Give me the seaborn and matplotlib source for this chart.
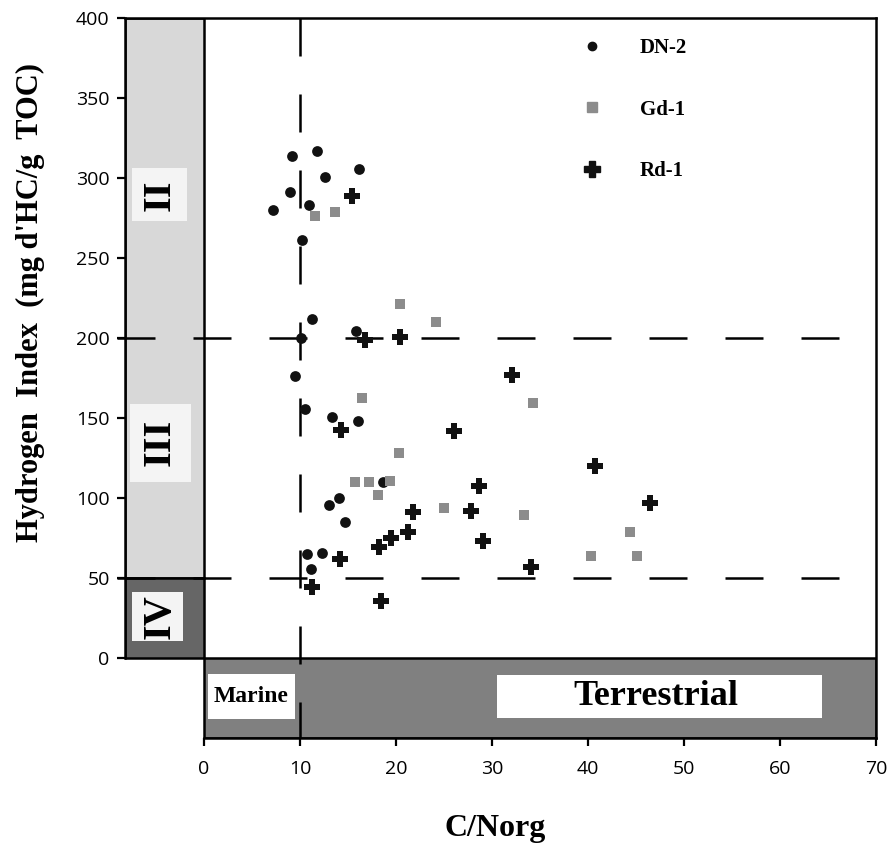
import numpy as np
import pandas as pd
import matplotlib
matplotlib.use("Agg")
import matplotlib.pyplot as plt
import seaborn as sns
from matplotlib.patches import Rectangle
from matplotlib.lines import Line2D

# values
dn2_cn = [9.2, 11.8, 12.6, 16.1, 9.0, 10.9, 7.2, 10.2, 11.25, 10.1, 15.8,
          9.5, 10.5, 13.3, 16.0, 18.6, 14.06, 13.05, 14.7, 10.7, 12.26, 11.1]
dn2_hi = [313.7, 317, 300.4, 305.4, 291, 283, 279.8, 261, 212, 199.8, 204.6,
          176.4, 155.6, 150.4, 148, 109.8, 100.2, 95.6, 85.2, 65.2, 65.6, 55.6]

gd1_cn = [11.6, 13.6, 20.4, 24.2, 16.5, 20.3, 15.7, 17.2, 19.4, 18.1, 25.0,
          34.3, 33.3, 44.4, 40.3, 45.1]
gd1_hi = [276.5, 278.5, 221, 210, 162.3, 128, 109.8, 109.8, 110.4, 101.9, 94,
          159.2, 89.4, 79, 63.75, 63.75]

rd1_cn = [15.45, 16.8, 20.4, 14.3, 21.8, 21.2, 19.5, 18.2, 14.2, 11.3, 18.4,
          32.05, 26.0, 40.7, 28.6, 46.5, 27.8, 29.1, 34.1]
rd1_hi = [288.75, 198.75, 200.4, 142.5, 91.5, 78.5, 75.2, 69.6, 61.9, 44.4, 35.4,
          176.9, 141.9, 120.2, 107.5, 97, 91.9, 72.9, 57]

wells = ["DN-2", "Gd-1", "Rd-1"]
xticks = [0, 10, 20, 30, 40, 50, 60, 70]
yticks = [0, 50, 100, 150, 200, 250, 300, 350, 400]

sns.set_theme(style="white")
plt.rcParams["font.family"] = ["Open Sans", "DejaVu Sans"]
plt.rcParams["text.color"] = "black"
plt.rcParams["axes.labelcolor"] = "black"
serif = ["Liberation Serif", "DejaVu Serif"]

fig = plt.figure(figsize=(8.93, 8.46), dpi=100)
ax = fig.add_axes([0.13998, 0.12766, 0.84098, 0.85106])
x0, x1 = -8.23, 70
y0, y1 = -50, 400
ax.set_xlim(x0, x1)
ax.set_ylim(y0, y1)

lw = 1.8
# grey strips
ax.add_patch(Rectangle((x0, 50), -x0, 350, fc="#d8d8d8", ec="black", lw=lw, zorder=1))
ax.add_patch(Rectangle((x0, 0), -x0, 50, fc="#666666", ec="black", lw=lw, zorder=1))
ax.add_patch(Rectangle((0, -50), 70, 50, fc="#808080", ec="black", lw=lw, zorder=1))

# white label boxes
for bx, by, bw, bh in [(-7.5, 273, 5.73, 33), (-7.7, 110, 6.35, 49), (-7.5, 10.6, 5.31, 30.4)]:
    ax.add_patch(Rectangle((bx, by), bw, bh, fc="#f4f4f4", ec="none", zorder=2))
ax.add_patch(Rectangle((0.42, -38.1), 9.06, 28.1, fc="white", ec="none", zorder=2))
ax.add_patch(Rectangle((30.5, -37.5), 33.9, 26.9, fc="white", ec="none", zorder=2))

for txt, ty in [("II", 289.5), ("III", 134.5), ("IV", 25.8)]:
    ax.text(-4.6, ty, txt, rotation=90, ha="center", va="center", fontsize=29,
            fontweight="bold", family=serif, color="black", zorder=3)
ax.text(4.95, -24, "Marine", ha="center", va="center", fontsize=17,
        fontweight="bold", family=serif, color="black", zorder=3)
ax.text(47.1, -24, "Terrestrial", ha="center", va="center", fontsize=26,
        fontweight="bold", family=serif, color="black", zorder=3)

# dashed boundaries
dash = (0, (15.2, 15.2))
ax.plot([10, 10], [400, -50], color="black", lw=lw, linestyle=dash, zorder=4)
for yy in [200, 50]:
    ax.plot([-9.06, 70], [yy, yy], color="black", lw=lw, linestyle=dash,
            zorder=4, clip_on=False)

# data
dn2 = pd.DataFrame({"cn": dn2_cn, "hi": dn2_hi})
gd1 = pd.DataFrame({"cn": gd1_cn, "hi": gd1_hi})
rd1 = pd.DataFrame({"cn": rd1_cn, "hi": rd1_hi})
sns.scatterplot(data=dn2, x="cn", y="hi", marker="o", s=60, color="#111111",
                linewidth=0, ax=ax, zorder=5)
sns.scatterplot(data=gd1, x="cn", y="hi", marker="s", s=60, color="#8c8c8c",
                linewidth=0, ax=ax, zorder=5)
sns.scatterplot(data=rd1, x="cn", y="hi", marker="P", s=135, color="#111111",
                linewidth=0, ax=ax, zorder=5)

handles = [
    Line2D([], [], ls="none", marker="o", ms=6, color="#111111"),
    Line2D([], [], ls="none", marker="s", ms=7.5, color="#8c8c8c"),
    Line2D([], [], ls="none", marker="P", ms=11, color="#111111"),
]
leg = ax.legend(handles, wells, loc="upper left", bbox_to_anchor=(581.5 / 893, 1 - 38 / 846),
                bbox_transform=fig.transFigure, frameon=False, handlelength=1,
                handletextpad=1.8, labelspacing=2.0, borderpad=0, borderaxespad=0,
                prop={"family": serif, "weight": "bold", "size": 15})
for t in leg.get_texts():
    t.set_color("black")

# axes
for s in ax.spines.values():
    s.set_linewidth(lw)
    s.set_color("black")
ax.spines["left"].set_bounds(0, 400)
ax.spines["bottom"].set_bounds(0, 70)
ax.set_xticks(xticks)
ax.set_yticks(yticks)
ax.tick_params(axis="both", direction="out", length=6, width=1.6, color="black",
               labelsize=14, labelcolor="black", bottom=True, left=True)
ax.tick_params(axis="x", pad=10)
ax.tick_params(axis="y", pad=5)

ax.set_xlabel("C/Norg", fontsize=23, fontweight="bold", family=serif, color="black")
ax.set_ylabel("Hydrogen  Index  (mg d'HC/g  TOC)", fontsize=22, fontweight="bold",
              family=serif, color="black")
ax.xaxis.set_label_coords(0.493, -0.105)
ax.yaxis.set_label_coords(-0.106, 0.605)

fig.savefig("out.png", dpi=100)
